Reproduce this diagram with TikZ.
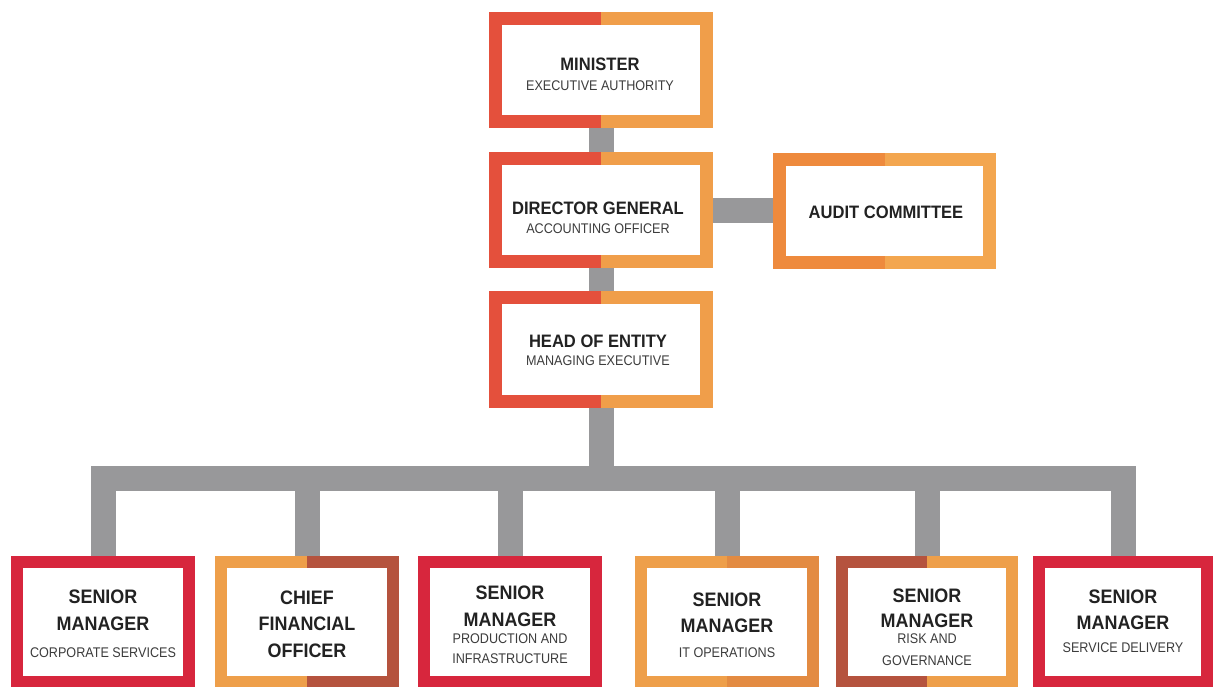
\documentclass[tikz,border=0pt]{standalone}
\usepackage{fontspec}
\setmainfont{Liberation Sans}
\newfontfamily\headfam{Liberation Sans}[FakeStretch=0.92]
\newfontfamily\notefam{Liberation Sans}[FakeStretch=0.9]
\usetikzlibrary{calc}

% palette
\definecolor{redor}{HTML}{E4503C}
\definecolor{orng}{HTML}{F09E4A}
\definecolor{auddark}{HTML}{EE8A3D}
\definecolor{audlight}{HTML}{F3A64F}
\definecolor{crimson}{HTML}{D7263D}
\definecolor{brick}{HTML}{B5533E}
\definecolor{amber}{HTML}{EE9F4A}
\definecolor{amberdk}{HTML}{E38B42}
\definecolor{linkgray}{HTML}{98989A}
\definecolor{titlec}{HTML}{222222}
\definecolor{subc}{HTML}{3C3C3C}

\tikzset{
  x=1pt, y=-1pt,
  frame width/.store in=\framew, frame width=13pt,
  % two-coloured frame: left half #1, right half #2, white inside
  boxframe/.style 2 args={fill=white, path picture={
      \fill[#1] (path picture bounding box.south west) rectangle (path picture bounding box.north);
      \fill[#2] (path picture bounding box.south) rectangle (path picture bounding box.north east);
      \fill[white] ([shift={(\framew,\framew)}]path picture bounding box.south west)
                   rectangle ([shift={(-\framew,-\framew)}]path picture bounding box.north east);
  }},
  topbox/.style={rectangle, inner sep=0pt, minimum width=224pt, minimum height=116pt, frame width=13pt},
  lowbox/.style={rectangle, inner sep=0pt, minimum width=184pt, minimum height=132pt, frame width=12pt},
  conn/.style={draw=linkgray, line width=25pt, line cap=butt, line join=miter},
  ttl/.style={font=\headfam\fontsize{18}{20}\selectfont\bfseries, text=titlec, inner sep=0pt, anchor=base},
  sub/.style={font=\notefam\fontsize{14}{16}\selectfont, text=subc, inner sep=0pt, anchor=base},
  lttl/.style={font=\headfam\fontsize{19.5}{21}\selectfont\bfseries, text=titlec, inner sep=0pt, anchor=base},
  lsub/.style={font=\notefam\fontsize{14}{16}\selectfont, text=subc, inner sep=0pt, anchor=base},
}

\begin{document}
\begin{tikzpicture}
\useasboundingbox[fill=white] (0,0) rectangle (1214,686);

% upper chain
\node[topbox, boxframe={redor}{orng}] (min) at (601,70) {};
\node[topbox, boxframe={redor}{orng}] (dg) at (601,210) {};
\node[topbox, boxframe={auddark}{audlight}, minimum width=223pt] (aud) at (884.5,210.5) {};
\node[topbox, boxframe={redor}{orng}, minimum height=117pt] (he) at (601,349.5) {};

% lower row
\node[lowbox, boxframe={crimson}{crimson}] (b1) at (103,622) {};
\node[lowbox, boxframe={amber}{brick}] (b2) at (307,622) {};
\node[lowbox, boxframe={crimson}{crimson}] (b3) at (510,622) {};
\node[lowbox, boxframe={amber}{amberdk}] (b4) at (727,622) {};
\node[lowbox, boxframe={brick}{amber}, minimum width=182pt] (b5) at (927,622) {};
\node[lowbox, boxframe={crimson}{crimson}, minimum width=180pt] (b6) at (1123,622) {};

% connectors
\coordinate (bus) at (601,478);
\draw[conn] (min.south) -- (dg.north);
\draw[conn] (dg.east) -- (aud.west |- dg.east);
\draw[conn] (dg.south) -- (he.north);
\draw[conn] (he.south) -- (he.south |- bus);
\draw[conn] (b1.north) -- (b1.north |- bus) -- (b6.north |- bus) -- (b6.north);
\foreach \b in {b2,b3,b4,b5}
  \draw[conn] (\b.north) -- (\b.north |- bus);

% labels
\node[ttl] (min-t) at (600,70) {MINISTER};
\node[sub] (min-s) at (600,90) {EXECUTIVE AUTHORITY};
\node[ttl] (dg-t) at (598,214) {DIRECTOR GENERAL};
\node[sub] (dg-s) at (598,233) {ACCOUNTING OFFICER};
\node[ttl] (aud-t) at (886,218) {AUDIT COMMITTEE};
\node[ttl] (he-t) at (598,347) {HEAD OF ENTITY};
\node[sub] (he-s) at (598,365) {MANAGING EXECUTIVE};

\node[lttl] (b1-a) at (103,603) {SENIOR};
\node[lttl] (b1-b) at (103,630) {MANAGER};
\node[lsub] (b1-c) at (103,657) {CORPORATE SERVICES};

\node[lttl] (b2-a) at (307,604) {CHIEF};
\node[lttl] (b2-b) at (307,630) {FINANCIAL};
\node[lttl] (b2-c) at (307,657) {OFFICER};

\node[lttl] (b3-a) at (510,599) {SENIOR};
\node[lttl] (b3-b) at (510,626) {MANAGER};
\node[lsub] (b3-c) at (510,643) {PRODUCTION AND};
\node[lsub] (b3-d) at (510,663) {INFRASTRUCTURE};

\node[lttl] (b4-a) at (727,606) {SENIOR};
\node[lttl] (b4-b) at (727,632) {MANAGER};
\node[lsub] (b4-c) at (727,657) {IT OPERATIONS};

\node[lttl] (b5-a) at (927,602) {SENIOR};
\node[lttl] (b5-b) at (927,627) {MANAGER};
\node[lsub] (b5-c) at (927,643) {RISK AND};
\node[lsub] (b5-d) at (927,665) {GOVERNANCE};

\node[lttl] (b6-a) at (1123,603) {SENIOR};
\node[lttl] (b6-b) at (1123,629) {MANAGER};
\node[lsub] (b6-c) at (1123,652) {SERVICE DELIVERY};
\end{tikzpicture}
\end{document}
